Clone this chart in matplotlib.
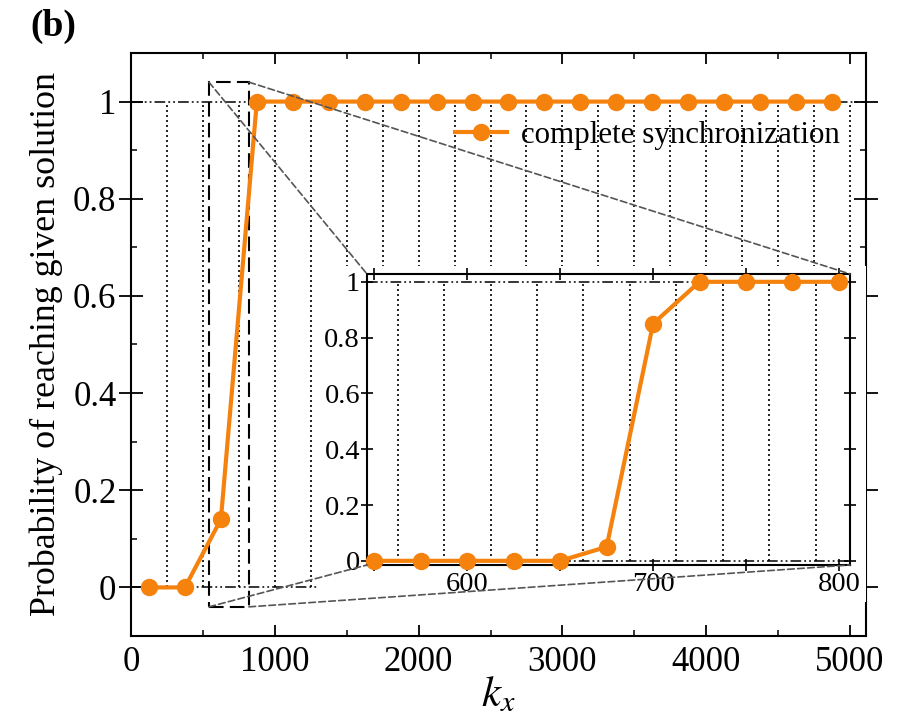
import matplotlib
matplotlib.use("Agg")
import matplotlib.pyplot as plt
import numpy as np
from matplotlib.patches import Rectangle, ConnectionPatch

plt.rcParams['font.family'] = ['Liberation Serif', 'DejaVu Serif']
plt.rcParams['mathtext.fontset'] = 'stix'

# ---- data ----
kx_main = [125, 375, 625, 875, 1125, 1375, 1625, 1875, 2125, 2375,
           2625, 2875, 3125, 3375, 3625, 3875, 4125, 4375, 4625, 4875]
p_main = [0, 0, 0.14, 1, 1, 1, 1, 1, 1, 1, 1, 1, 1, 1, 1, 1, 1, 1, 1, 1]

kx_inset = [550, 575, 600, 625, 650, 675, 700, 725, 750, 775, 800]
p_inset = [0, 0, 0, 0, 0, 0.05, 0.85, 1, 1, 1, 1]

grid_main = list(range(250, 5001, 250))
grid_inset = [562.5, 587.5, 612.5, 637.5, 662.5, 687.5, 712.5, 737.5, 762.5, 787.5]

main_yticks = [0, 0.2, 0.4, 0.6, 0.8, 1]
main_yticklabels = ['0', '0.2', '0.4', '0.6', '0.8', '1']
main_xticks = [0, 1000, 2000, 3000, 4000, 5000]
inset_xticks = [600, 700, 800]

ORANGE = '#f5820d'
W, H = 901, 723
fig = plt.figure(figsize=(W / 100, H / 100), dpi=100)

def fr(l, t, r, b):
    return [l / W, 1 - b / H, (r - l) / W, (b - t) / H]

ax = fig.add_axes(fr(131, 53, 866, 636))
ax.set_xlim(0, 5111)
ax.set_ylim(-0.1, 1.1)

dashdotdot = (0, (7, 2, 1.2, 2, 1.2, 2))
for g in grid_main:
    ax.plot([g, g], [0, 1], color='black', ls=(0, (1.2, 1.8)), lw=1.2, zorder=1)
ax.axhline(0, color='black', ls=dashdotdot, lw=1.1, zorder=1)
ax.axhline(1, color='black', ls=dashdotdot, lw=1.1, zorder=1)

ax.plot(kx_main, p_main, color=ORANGE, lw=3, marker='o', ms=11.5,
        label='complete synchronization', zorder=3)

# zoom rectangle
rx0, rx1, ry0, ry1 = 542, 820, -0.04, 1.04
ax.add_patch(Rectangle((rx0, ry0), rx1 - rx0, ry1 - ry0, fill=False,
                       ec='black', ls=(0, (7, 3)), lw=1.5, zorder=2))

ax.set_xticks(main_xticks)
ax.set_xticks(range(500, 5001, 1000), minor=True)
ax.set_yticks(main_yticks)
ax.set_yticklabels(main_yticklabels)
ax.set_yticks(np.arange(0.1, 1.0, 0.2), minor=True)
ax.tick_params(axis='x', which='major', direction='in', length=8, width=1.3,
               top=True, labelsize=25, pad=7)
ax.tick_params(axis='x', which='minor', direction='in', length=4.5, width=1.1, top=True)
ax.tick_params(axis='y', which='major', direction='inout', length=17, width=1.3,
               right=True, labelsize=25, pad=2)
ax.tick_params(axis='y', which='minor', direction='in', length=4.5, width=1.1, right=True)
for s in ax.spines.values():
    s.set_linewidth(1.5)

ax.set_xlabel('$k_x$', fontsize=31, labelpad=-2)
ax.set_ylabel('Probability of reaching given solution', fontsize=25.8, labelpad=7)

leg = ax.legend(loc='center right', bbox_to_anchor=(0.99, 0.859), frameon=False,
                fontsize=22.3, handlelength=1.7, handletextpad=0.45, borderpad=0.1)

fig.text(30 / W, 1 - 26 / H, '(b)', fontsize=27, fontweight='bold', va='center', ha='left')

# white background behind inset and its labels
fig.add_artist(Rectangle((318 / W, 1 - 602 / H), (866 - 318) / W, (602 - 266) / H,
                         transform=fig.transFigure, fc='white', ec='none', zorder=0.5))

axi = fig.add_axes(fr(367, 274, 850, 565))
axi.set_zorder(1)
axi.set_xlim(546, 806)
axi.set_ylim(-0.015, 1.028)
for g in grid_inset:
    axi.plot([g, g], [0, 1], color='black', ls=(0, (1.2, 1.8)), lw=1.2, zorder=1)
axi.axhline(0, color='black', ls=dashdotdot, lw=1.1, zorder=1)
axi.axhline(1, color='black', ls=dashdotdot, lw=1.1, zorder=1)
axi.plot(kx_inset, p_inset, color=ORANGE, lw=3, marker='o', ms=11.5, zorder=3,
         clip_on=False)
axi.set_xticks(inset_xticks)
axi.set_xticks([550, 650, 750], minor=True)
axi.set_yticks(main_yticks)
axi.set_yticklabels(main_yticklabels)
axi.tick_params(axis='both', which='both', direction='inout', length=8, width=1.2,
                top=True, right=True, labelsize=20.5, pad=1)
for s in axi.spines.values():
    s.set_linewidth(1.5)

# connectors
for (xa, ya), (xb, yb) in [((rx0, ry1), (0, 1)), ((rx1, ry1), (1, 1)),
                           ((rx0, ry0), (0, 0)), ((rx1, ry0), (1, 0))]:
    cp = ConnectionPatch((xa, ya), (xb, yb), coordsA=ax.transData, coordsB=axi.transAxes,
                         color='#555555', ls=(0, (4, 2)), lw=1.2, zorder=2)
    fig.add_artist(cp)

fig.savefig('out.png', dpi=100)
